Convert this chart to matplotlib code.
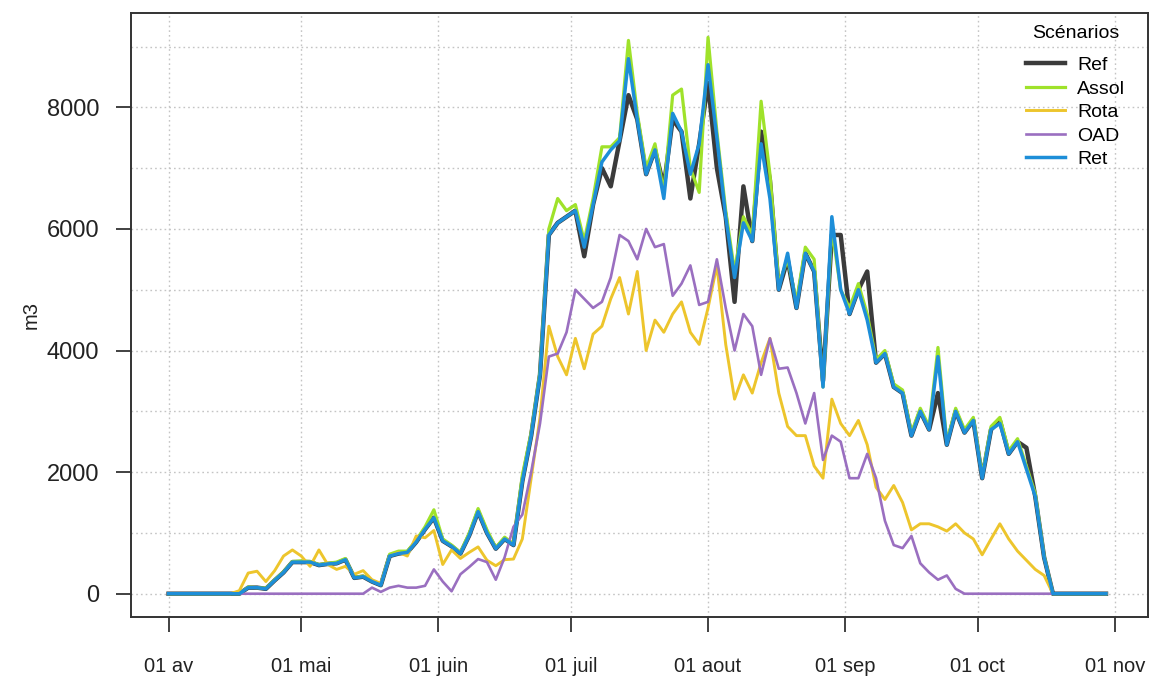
import matplotlib
matplotlib.use("Agg")
import matplotlib.pyplot as plt
import numpy as np
import pandas as pd

# ---------------- data (every 2 days, 1 Apr -> 30 Oct) ----------------
start_date = "2013-04-01"
n_points = 107
step_days = 2

ref = [0, 0, 0, 0, 0, 0, 0, 0,
       0, 100, 100, 80, 220, 350, 520, 520, 520, 470, 490, 500, 560, 260, 280, 200, 140,
       620, 660, 680, 850, 1060, 1250, 870, 780, 660, 960, 1350, 1000, 740, 900, 800,
       1850, 2600, 3600, 5900, 6100, 6200, 6300, 5550, 6400, 7000, 6700, 7450, 8200,
       7800, 6900, 7300, 6700, 7800, 7600, 6500, 7400, 8400, 7000, 6200, 4800, 6700,
       5800, 7600, 6800, 5000, 5500, 4700, 5600, 5300, 3500, 5900, 5900, 4600, 5000,
       5300, 3800, 3950, 3400, 3300, 2600, 3000, 2700, 3300, 2450, 3000, 2650, 2850,
       1900, 2700, 2850, 2300, 2500, 2400, 1600, 600,
       0, 0, 0, 0, 0, 0, 0]

assol = [0, 0, 0, 0, 0, 0, 0, 0,
         0, 110, 100, 90, 230, 360, 530, 540, 530, 480, 500, 520, 580, 270, 290, 210, 150,
         650, 700, 700, 880, 1100, 1380, 900, 800, 680, 1000, 1400, 1050, 760, 930, 820,
         1950, 2650, 3650, 6000, 6500, 6300, 6400, 5800, 6500, 7350, 7350, 7500, 9100,
         7900, 7000, 7400, 6600, 8200, 8300, 7000, 6600, 9150, 7600, 6300, 5300, 6200,
         5900, 8100, 6900, 5100, 5500, 4800, 5700, 5500, 3400, 6000, 5000, 4700, 5100,
         4600, 3850, 4000, 3450, 3350, 2650, 3050, 2750, 4050, 2500, 3050, 2700, 2900,
         1950, 2750, 2900, 2350, 2550, 2100, 1650, 620,
         0, 0, 0, 0, 0, 0, 0]

rota = [0, 0, 0, 0, 0, 0, 0, 0,
        50, 340, 370, 200, 380, 620, 720, 620, 450, 720, 480, 400, 450, 320, 380, 230, 170,
        620, 680, 620, 950, 920, 1040, 480, 720, 580, 680, 770, 550, 460, 560, 570,
        900, 1900, 2900, 4400, 3900, 3600, 4200, 3700, 4270, 4400, 4850, 5200, 4600,
        5300, 4000, 4500, 4300, 4600, 4800, 4300, 4100, 4700, 5400, 4100, 3200, 3600,
        3300, 3800, 4200, 3300, 2750, 2600, 2600, 2100, 1900, 3200, 2800, 2600, 2850,
        2450, 1750, 1550, 1780, 1500, 1050, 1150, 1150, 1100, 1030, 1150, 1000, 900,
        640, 900, 1150, 900, 700, 550, 400, 300,
        0, 0, 0, 0, 0, 0, 0]

oad = [0, 0, 0, 0, 0, 0, 0, 0,
       0, 0, 0, 0, 0, 0, 0, 0, 0, 0, 0, 0, 0, 0, 0, 100, 30,
       100, 130, 100, 100, 130, 400, 200, 40, 320, 440, 570, 520, 230, 600, 1100,
       1300, 2000, 2800, 3900, 3950, 4300, 5000, 4850, 4700, 4800, 5200, 5900, 5800,
       5500, 6000, 5700, 5750, 4900, 5100, 5400, 4750, 4800, 5500, 4700, 4000, 4600,
       4400, 3600, 4200, 3700, 3720, 3300, 2800, 3300, 2200, 2600, 2500, 1900, 1900,
       2300, 1900, 1200, 800, 750, 950, 500, 350, 230, 300, 80, 0, 0,
       0, 0, 0, 0, 0, 0, 0, 0,
       0, 0, 0, 0, 0, 0, 0]

ret = [0, 0, 0, 0, 0, 0, 0, 0,
       0, 100, 100, 80, 220, 350, 520, 520, 520, 470, 490, 500, 560, 260, 280, 200, 140,
       620, 660, 680, 850, 1060, 1250, 870, 780, 660, 960, 1350, 1000, 740, 900, 800,
       1850, 2600, 3600, 5900, 6100, 6200, 6300, 5700, 6400, 7100, 7300, 7450, 8800,
       7800, 6900, 7300, 6500, 7900, 7600, 6900, 7400, 8700, 7500, 6200, 5200, 6100,
       5800, 7400, 6500, 5000, 5600, 4700, 5600, 5300, 3400, 6200, 5000, 4600, 5000,
       4500, 3800, 3950, 3400, 3300, 2600, 3000, 2700, 3900, 2450, 3000, 2650, 2850,
       1900, 2700, 2800, 2300, 2500, 2050, 1600, 600,
       0, 0, 0, 0, 0, 0, 0]

series_names = ["Ref", "Assol", "Rota", "OAD", "Ret"]
series_values = [ref, assol, rota, oad, ret]
series_colors = ["#3b3b3b", "#9fe22a", "#edc52c", "#9a6fc0", "#1d8ed8"]
series_widths = [3.2, 2.3, 2.1, 1.9, 2.5]

month_ticks = ["2013-04-01", "2013-05-01", "2013-06-01", "2013-07-01",
               "2013-08-01", "2013-09-01", "2013-10-01", "2013-11-01"]
month_labels = ["01 av", "01 mai", "01 juin", "01 juil",
                "01 aout", "01 sep", "01 oct", "01 nov"]
y_ticks = [0, 2000, 4000, 6000, 8000]
y_grid = [0, 1000, 2000, 3000, 4000, 5000, 6000, 7000, 8000, 9000]

# ---------------- figure ----------------
plt.rcParams["font.family"] = ["Liberation Sans", "DejaVu Sans"]
W, H = 1154, 680
fig = plt.figure(figsize=(W / 100, H / 100), dpi=100)
ax = fig.add_axes([131 / W, 1 - 617 / H, (1148 - 131) / W, (617 - 13) / H])

dates = pd.date_range(start_date, periods=n_points, freq=f"{step_days}D")
xt = pd.to_datetime(month_ticks)

grid_kw = dict(color="#c4c4c4", linestyle=(0, (1.2, 2.2)), linewidth=1.0, zorder=0)
for g in y_grid:
    ax.axhline(g, **grid_kw)
for t in xt:
    ax.axvline(t, **grid_kw)

for name, vals, col, lw in zip(series_names, series_values, series_colors, series_widths):
    ax.plot(dates, vals, color=col, lw=lw, label=name, solid_joinstyle="round", zorder=2)

t0 = pd.Timestamp(start_date)
t_end = pd.Timestamp("2013-10-31")
ax.set_xlim(t0 - pd.Timedelta(days=8.5), t_end + pd.Timedelta(days=8.5))
ax.set_ylim(-383, 9551)

ax.set_xticks(xt)
ax.set_xticklabels(month_labels, fontsize=14.5, color="#222222")
ax.set_yticks(y_ticks)
ax.set_yticklabels([str(v) for v in y_ticks], fontsize=17, color="#222222")
ax.tick_params(axis="x", length=11, width=1.3, pad=18, color="#333333")
ax.tick_params(axis="y", length=11, width=1.3, pad=12, color="#333333")
for s in ax.spines.values():
    s.set_linewidth(1.4)
    s.set_color("#333333")

ax.set_ylabel("m3", fontsize=14.5, labelpad=4, color="#222222")

leg = ax.legend(loc="upper right", bbox_to_anchor=(0.985, 0.993), frameon=False,
                title="Scénarios", fontsize=14, title_fontsize=14,
                handlelength=2.0, handletextpad=0.6, labelspacing=0.3,
                borderaxespad=0.0)
leg._legend_box.align = "center"
leg._legend_box.sep = 10.5

fig.savefig("out.png", dpi=100)
